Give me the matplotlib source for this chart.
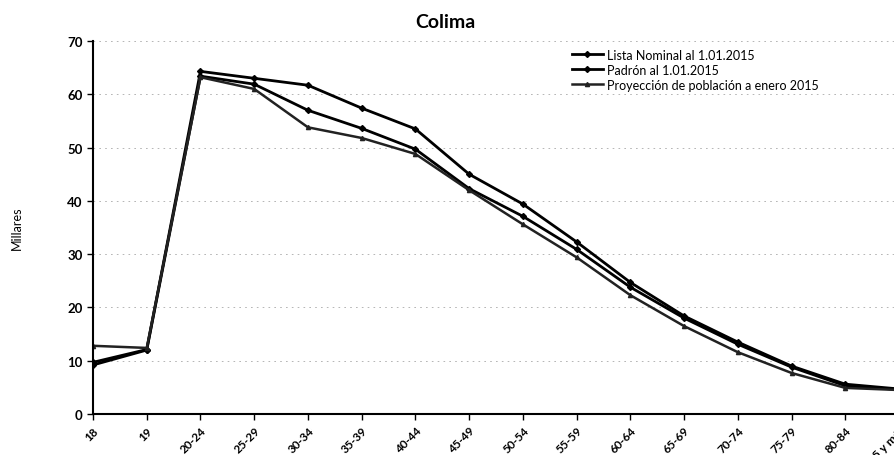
import matplotlib
matplotlib.use("Agg")
import matplotlib.pyplot as plt

plt.rcParams['font.family'] = ['Lato', 'DejaVu Sans']

# grupos de edad
edades = ['18', '19', '20-24', '25-29', '30-34', '35-39', '40-44', '45-49',
          '50-54', '55-59', '60-64', '65-69', '70-74', '75-79', '80-84', '85 y más']

# miles de personas
lista_nominal = [9.2, 12.0, 63.4, 61.9, 57.0, 53.6, 49.7, 42.3,
                 37.1, 30.9, 23.8, 18.0, 13.1, 8.8, 5.3, 4.6]
padron = [9.7, 12.1, 64.3, 63.0, 61.7, 57.4, 53.5, 45.0,
          39.4, 32.3, 24.7, 18.4, 13.5, 9.0, 5.6, 4.7]
proyeccion = [12.8, 12.4, 63.2, 61.0, 53.8, 51.8, 48.8, 42.0,
              35.6, 29.4, 22.3, 16.5, 11.6, 7.7, 4.9, 4.5]

W, H = 895, 456
fig = plt.figure(figsize=(W / 100, H / 100), dpi=100)
ax = fig.add_axes([93 / W, (H - 415) / H, (899 - 93) / W, (415 - 42) / H])

x = range(len(edades))
ax.plot(x, lista_nominal, color='black', lw=2, marker='D', ms=3,
        label='Lista Nominal al 1.01.2015')
ax.plot(x, padron, color='black', lw=2, marker='D', ms=3,
        label='Padrón al 1.01.2015')
ax.plot(x, proyeccion, color='#222222', lw=1.8, marker='^', ms=3,
        label='Proyección de población a enero 2015')

ax.set_xlim(0, 15)
ax.set_ylim(0, 70)
ax.set_yticks(range(0, 71, 10))
ax.set_xticks(list(x))
ax.set_xticklabels(edades, rotation=45, ha='right', rotation_mode='anchor',
                   fontsize=8.5, fontweight='bold')
for lab in ax.get_yticklabels():
    lab.set_fontsize(9.5)
    lab.set_fontweight('bold')

ax.grid(axis='y', color='#aaaaaa', ls=(0, (2, 5)), lw=0.6)
ax.set_axisbelow(True)
for s in ['top', 'right']:
    ax.spines[s].set_visible(False)
ax.spines['left'].set_linewidth(1.5)
ax.spines['bottom'].set_linewidth(1.5)
ax.tick_params(axis='both', direction='out', length=4, width=1)

ax.set_ylabel('Millares', fontsize=9, labelpad=32)
fig.text(445 / W, 1 - 22 / H, 'Colima', ha='center', va='center',
         fontsize=14, fontweight='bold')

ax.legend(loc='upper left', bbox_to_anchor=(0.58, 1.01), frameon=False,
          fontsize=9, handlelength=2.5, labelspacing=0.25, handletextpad=0.3)

fig.savefig('out.png', dpi=100)
